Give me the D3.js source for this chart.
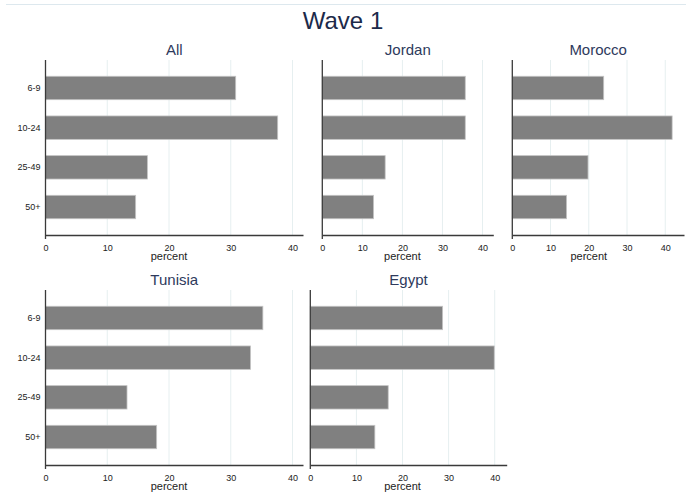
<!DOCTYPE html>
<html>
<head>
<meta charset="utf-8">
<script src="https://cdn.jsdelivr.net/npm/d3@7"></script>
<style>
  body { margin: 0; background: #fff; }
  svg { display: block; font-family: "Liberation Sans", Arial, sans-serif; }
</style>
</head>
<body>
<div id="chart"></div>
<script>
// age groups and percent by region, wave 1
const ageGroups = ['6-9', '10-24', '25-49', '50+']
const ticks = [0, 10, 20, 30, 40]
const regions = ['All', 'Jordan', 'Morocco', 'Tunisia', 'Egypt']
const allVals = [30.8, 37.6, 16.5, 14.6]
const jordanVals = [35.7, 35.7, 15.7, 12.8]
const moroccoVals = [23.9, 41.8, 19.8, 14.2]
const tunisiaVals = [35.2, 33.2, 13.2, 18.0]
const egyptVals = [28.7, 39.9, 16.9, 14.0]
const xMax = [41.7, 42.7, 44.9, 41.7, 42.6]

const values = [allVals, jordanVals, moroccoVals, tunisiaVals, egyptVals]

// plot boxes for each panel
const panels = [
  { x0: 45.5, x1: 303, y0: 60, y1: 235, labels: true },
  { x0: 322.3, x1: 493.3, y0: 60, y1: 235, labels: false },
  { x0: 512.3, x1: 684, y0: 60, y1: 235, labels: false },
  { x0: 45.5, x1: 303, y0: 290, y1: 465, labels: true },
  { x0: 310.3, x1: 506.7, y0: 290, y1: 465, labels: false }
]

const fullWidth = 686, fullHeight = 499

const svg = d3.select('#chart')
  .append('svg')
  .attr('width', fullWidth)
  .attr('height', fullHeight)

svg.append('line')
  .attr('x1', 6).attr('x2', fullWidth)
  .attr('y1', 4.5).attr('y2', 4.5)
  .attr('stroke', '#dde8ee')
  .attr('stroke-width', 1)

svg.append('text')
  .attr('x', 343)
  .attr('y', 29)
  .attr('text-anchor', 'middle')
  .attr('font-size', 24)
  .attr('fill', '#1c2a4a')
  .text('Wave 1')

panels.forEach((p, i) => {
  const x = d3.scaleLinear().domain([0, xMax[i]]).range([p.x0, p.x1])
  const y = d3.scaleBand().domain(ageGroups).range([p.y0, p.y1]).padding(0.41)

  const g = svg.append('g')

  // grid
  g.selectAll('.grid')
    .data(ticks.filter(t => t > 0))
    .enter()
    .append('line')
    .attr('class', 'grid')
    .attr('x1', d => x(d)).attr('x2', d => x(d))
    .attr('y1', p.y0).attr('y2', p.y1)
    .attr('stroke', '#e6eff0')
    .attr('stroke-width', 1)

  // bars
  g.selectAll('.bar')
    .data(values[i])
    .enter()
    .append('rect')
    .attr('class', 'bar')
    .attr('x', x(0))
    .attr('y', (d, j) => y(ageGroups[j]))
    .attr('width', d => x(d) - x(0))
    .attr('height', y.bandwidth())
    .attr('fill', '#808080')
    .attr('stroke', '#c4c4c4')
    .attr('stroke-width', 0.8)

  // x axis
  const xAxis = g.append('g')
    .attr('transform', `translate(0, ${p.y1})`)
    .call(d3.axisBottom(x).tickValues(ticks).tickSize(0).tickPadding(9.5))
  xAxis.select('.domain').attr('stroke', '#3a3a3a').attr('stroke-width', 1.3)
  xAxis.selectAll('text')
    .attr('font-size', 9)
    .attr('fill', '#222')
    .attr('font-family', '"Liberation Sans", Arial, sans-serif')
  xAxis.selectAll('.tick line').remove()

  g.append('text')
    .attr('x', x(20))
    .attr('y', p.y1 + 24.5)
    .attr('text-anchor', 'middle')
    .attr('font-size', 11)
    .attr('fill', '#222')
    .text('percent')

  // y axis
  const yAxis = g.append('g')
    .attr('transform', `translate(${p.x0}, 0)`)
    .call(d3.axisLeft(y).tickSize(0).tickPadding(5))
  yAxis.select('.domain').remove()
  yAxis.selectAll('text')
    .attr('font-size', 9)
    .attr('fill', '#222')
    .attr('font-family', '"Liberation Sans", Arial, sans-serif')
  if (!p.labels) yAxis.selectAll('text').remove()
  g.append('line')
    .attr('x1', p.x0).attr('x2', p.x0)
    .attr('y1', p.y0).attr('y2', p.y1 + 4)
    .attr('stroke', '#3a3a3a')
    .attr('stroke-width', 1.3)

  // panel title
  g.append('text')
    .attr('x', (p.x0 + p.x1) / 2)
    .attr('y', p.y0 - 5)
    .attr('text-anchor', 'middle')
    .attr('font-size', 15)
    .attr('fill', '#2e3a5c')
    .text(regions[i])
})
</script>
</body>
</html>
